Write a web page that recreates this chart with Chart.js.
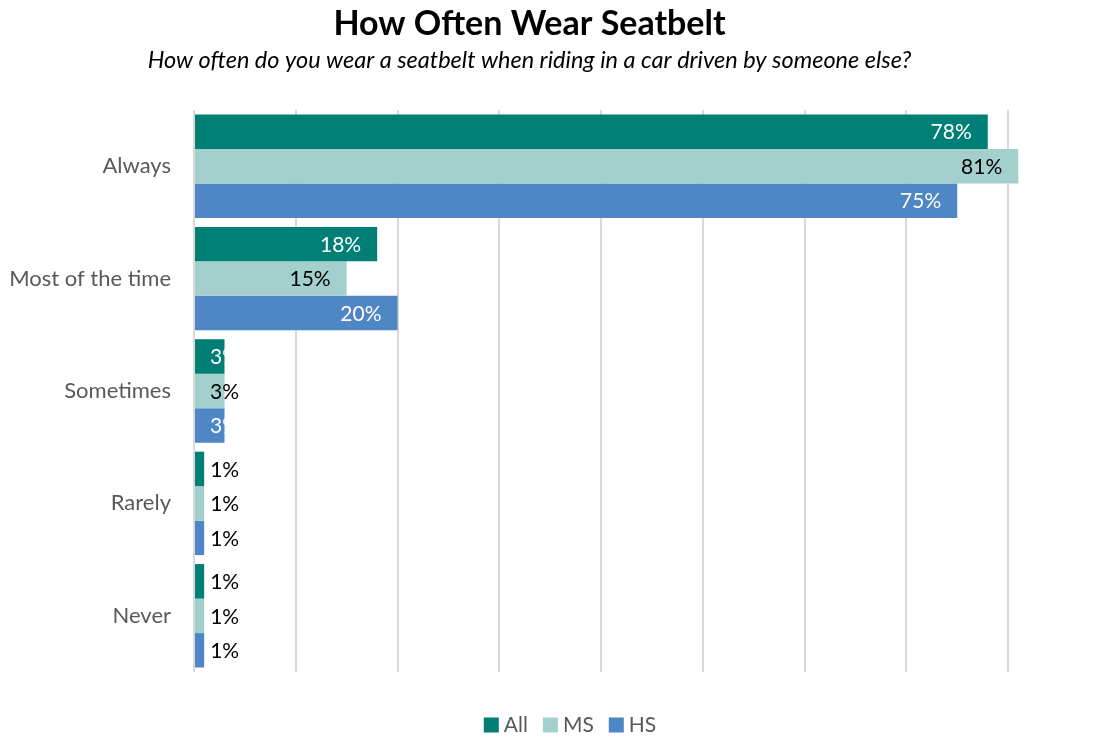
<!DOCTYPE html>
<html>
<head>
<meta charset="utf-8">
<title>How Often Wear Seatbelt</title>
<script src="https://cdn.jsdelivr.net/npm/chart.js@4.4.0/dist/chart.umd.min.js"></script>
<style>
    html, body { margin: 0; padding: 0; background: #fff; }
    #wrap { width: 1106px; height: 736px; position: relative; }
</style>
</head>
<body>
<div id="wrap"><canvas id="seatbeltChart"></canvas></div>
<script>
const categories = ['Always', 'Most of the time', 'Sometimes', 'Rarely', 'Never'];
const seriesNames = ['All', 'MS', 'HS'];
const allValues = [78, 18, 3, 1, 1];
const msValues = [81, 15, 3, 1, 1];
const hsValues = [75, 20, 3, 1, 1];
const gridTicks = [0, 10, 20, 30, 40, 50, 60, 70, 80];

const FONT = 'Lato, "Open Sans", sans-serif';
const colors = ['#007F77', '#A3CFCC', '#4F86C6'];
const insideLabelColors = ['#ffffff', '#000000', '#ffffff'];

// values on the bars: inside the end when there is room, otherwise just past the base
const barLabels = {
    id: 'barLabels',
    afterDatasetsDraw(chart) {
        const ctx = chart.ctx;
        ctx.save();
        ctx.font = '21px ' + FONT;
        ctx.textBaseline = 'middle';
        chart.data.datasets.forEach((ds, di) => {
            const meta = chart.getDatasetMeta(di);
            meta.data.forEach((bar, i) => {
                const value = ds.data[i];
                const text = value + '%';
                const w = ctx.measureText(text).width;
                const barWidth = bar.x - bar.base;
                if (value <= 1) {
                    ctx.fillStyle = '#000000';
                    ctx.textAlign = 'left';
                    ctx.fillText(text, bar.x + 6, bar.y + 1);
                } else if (barWidth < w + 20) {
                    ctx.fillStyle = insideLabelColors[di];
                    ctx.textAlign = 'left';
                    ctx.fillText(text, bar.base + 15, bar.y + 1);
                } else {
                    ctx.fillStyle = insideLabelColors[di];
                    ctx.textAlign = 'right';
                    ctx.fillText(text, bar.x - 16, bar.y + 1);
                }
            });
        });
        ctx.restore();
    }
};

// compact legend row under the plot (tighter box/text spacing than the built-in one)
const bottomLegend = {
    id: 'bottomLegend',
    afterDraw(chart) {
        const ctx = chart.ctx;
        const box = 15, boxGap = 5, itemGap = 15;
        const centerX = 570, centerY = 725;
        ctx.save();
        ctx.font = '21px ' + FONT;
        ctx.textBaseline = 'middle';
        ctx.textAlign = 'left';
        const items = chart.data.datasets.map(ds => ({
            label: ds.label,
            color: ds.backgroundColor,
            width: box + boxGap + ctx.measureText(ds.label).width
        }));
        const total = items.reduce((s, it) => s + it.width, 0) + itemGap * (items.length - 1);
        let x = centerX - total / 2;
        items.forEach(it => {
            ctx.fillStyle = it.color;
            ctx.fillRect(x, centerY - box / 2, box, box);
            ctx.fillStyle = '#595959';
            ctx.fillText(it.label, x + box + boxGap, centerY);
            x += it.width + itemGap;
        });
        ctx.restore();
    }
};

new Chart(document.getElementById('seatbeltChart'), {
    type: 'bar',
    data: {
        labels: categories,
        datasets: [
            { label: seriesNames[0], data: allValues, backgroundColor: colors[0] },
            { label: seriesNames[1], data: msValues, backgroundColor: colors[1] },
            { label: seriesNames[2], data: hsValues, backgroundColor: colors[2] }
        ]
    },
    options: {
        indexAxis: 'y',
        responsive: true,
        maintainAspectRatio: false,
        animation: false,
        layout: { padding: { left: 0, right: 47, top: 4, bottom: 54 } },
        datasets: {
            bar: { categoryPercentage: 0.92, barPercentage: 1.0 }
        },
        plugins: {
            title: {
                display: true,
                text: 'How Often Wear Seatbelt',
                color: '#000000',
                font: { family: FONT, size: 34, weight: 'bold' },
                padding: { top: 0, bottom: 2 }
            },
            subtitle: {
                display: true,
                text: 'How often do you wear a seatbelt when riding in a car driven by someone else?',
                color: '#000000',
                font: { family: FONT, size: 23.5, style: 'italic' },
                padding: { top: 0, bottom: 35 }
            },
            legend: { display: false },
            tooltip: { enabled: false }
        },
        scales: {
            x: {
                min: 0,
                max: 85,
                afterBuildTicks(scale) {
                    scale.ticks = gridTicks.map(v => ({ value: v }));
                },
                afterFit(scale) { scale.height = 10; },
                ticks: { display: false },
                grid: { color: '#d9d9d9', lineWidth: 2, drawTicks: false },
                border: { display: false }
            },
            y: {
                afterFit(scale) { scale.width = 194; },
                ticks: {
                    color: '#595959',
                    font: { family: FONT, size: 22 },
                    padding: 15
                },
                grid: { display: false },
                border: { display: false }
            }
        }
    },
    plugins: [barLabels, bottomLegend]
});
</script>
</body>
</html>
